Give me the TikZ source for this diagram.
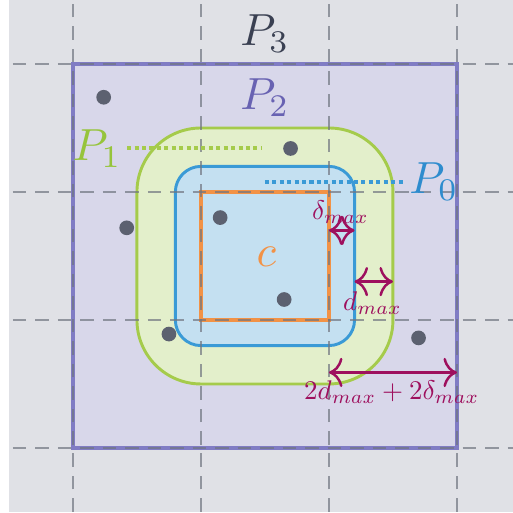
\documentclass[tikz,border=0pt]{standalone}
\usepackage{graphicx}
\usepackage{tikz}
\usetikzlibrary{arrows.meta}
\definecolor{bggray}{RGB}{224,225,230}
\definecolor{gridgray}{RGB}{112,117,128}
\definecolor{p2fill}{RGB}{216,215,234}
\definecolor{p2line}{RGB}{128,124,196}
\definecolor{p2text}{RGB}{104,98,178}
\definecolor{p1fill}{RGB}{227,239,203}
\definecolor{p1line}{RGB}{165,203,75}
\definecolor{p1text}{RGB}{150,196,60}
\definecolor{p0fill}{RGB}{196,224,241}
\definecolor{p0line}{RGB}{58,154,214}
\definecolor{p0text}{RGB}{46,140,206}
\definecolor{corange}{RGB}{242,146,70}
\definecolor{dimred}{RGB}{158,16,94}
\definecolor{dotgray}{RGB}{92,97,112}
\definecolor{p3text}{RGB}{58,64,82}
\newcommand{\dimmath}[1]{\scalebox{0.6}{$#1$}}

\begin{document}
\begin{tikzpicture}[
  gridline/.style={draw=gridgray, line width=0.4pt, dash pattern=on 3pt off 2pt, opacity=0.7},
  region/.style={line width=0.65pt},
  leader/.style={line width=0.9pt, dash pattern=on 0.9pt off 0.75pt},
  pt/.style={circle, fill=dotgray, inner sep=0pt, minimum size=1.15mm},
  lbl/.style={inner sep=1pt},
  dim/.style={dimred, line width=0.55pt, {To[length=3pt,width=6.5pt]}-{To[length=3pt,width=6.5pt]}},
  dimlbl/.style={text=dimred, inner sep=1pt}
]
\useasboundingbox (-1.57,-1.508) rectangle (2.43,2.5);
\fill[bggray] (-1.5,-1.5) rectangle (2.5,2.5);
\draw[region, draw=p2line, fill=p2fill, line width=0.7pt] (-1,-1) rectangle (2,2);
\draw[region, draw=p1line, fill=p1fill, rounded corners=5mm] (-0.5,-0.5) rectangle (1.5,1.5);
\draw[region, draw=p0line, fill=p0fill, rounded corners=2mm] (-0.2,-0.2) rectangle (1.2,1.2);
\draw[region, draw=corange, line width=0.7pt] (0,0) rectangle (1,1);
\foreach \k in {-1,...,2} {
  \draw[gridline] (-1.47,\k) -- (2.5,\k);
  \draw[gridline] (\k,-1.5) -- (\k,2.5);
}
\node[pt] (s1) at (-0.76,1.74) {};
\node[pt] (s2) at (0.70,1.34) {};
\node[pt] (s3) at (-0.58,0.72) {};
\node[pt] (s4) at (0.15,0.80) {};
\node[pt] (s5) at (0.65,0.16) {};
\node[pt] (s6) at (-0.25,-0.11) {};
\node[pt] (s7) at (1.70,-0.14) {};
\node[lbl, text=p3text] (p3) at (0.5,2.24) {$P_3$};
\node[lbl, text=p2text] (p2) at (0.5,1.74) {$P_2$};
\node[lbl, text=p1text] (p1) at (-0.81,1.34) {$P_1$};
\node[lbl, text=p0text] (p0) at (1.82,1.08) {$P_0$};
\node[lbl, text=corange] (c) at (0.51,0.49) {$c$};
\coordinate (p1end) at (0.48,1.34);
\coordinate (p0end) at (0.5,1.08);
\draw[leader, p1line] (p1) -- (p1end);
\draw[leader, p0line] (p0end) -- (p0);
\coordinate (da) at (1,0.7);
\coordinate (db) at (1.2,0.7);
\coordinate (dc) at (1.2,0.3);
\coordinate (dd) at (1.5,0.3);
\coordinate (de) at (1,-0.41);
\coordinate (df) at (2,-0.41);
\draw[dim] (da) -- (db);
\draw[dim] (dc) -- (dd);
\draw[dim] (de) -- (df);
\node[dimlbl] (ldelta) at (1.09,0.84) {\dimmath{\delta_{max}}};
\node[dimlbl] (ld) at (1.34,0.13) {\dimmath{d_{max}}};
\node[dimlbl] (lsum) at (1.49,-0.56) {\dimmath{2d_{max}+2\delta_{max}}};
\end{tikzpicture}
\end{document}
